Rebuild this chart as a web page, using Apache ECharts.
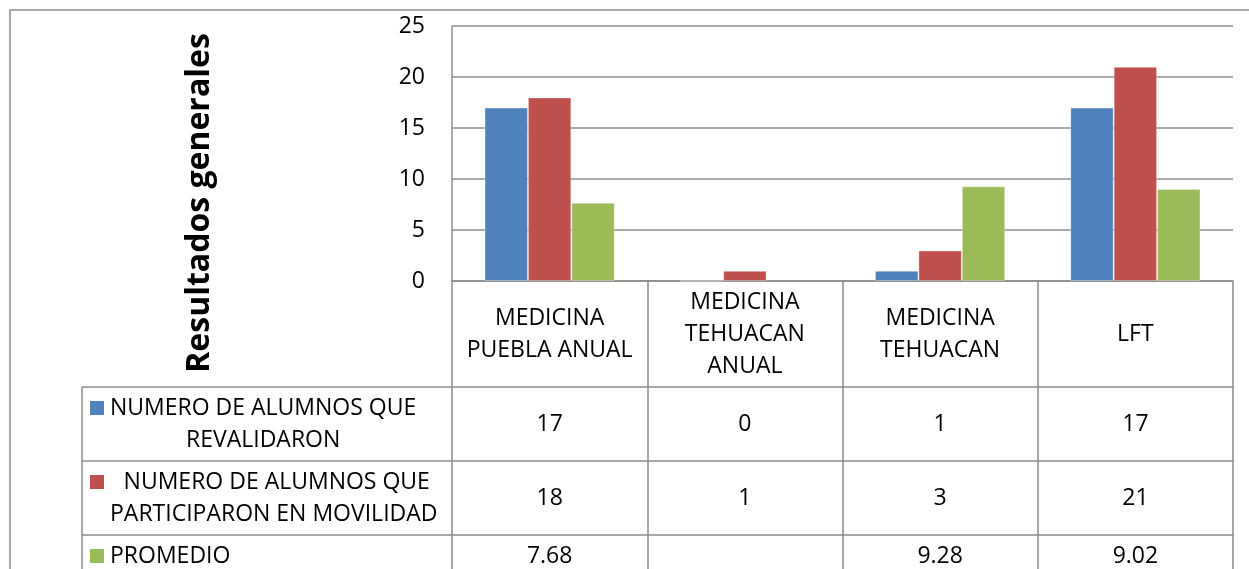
<!DOCTYPE html>
<html><head><meta charset="utf-8">
<script src="https://cdn.jsdelivr.net/npm/echarts@6/dist/echarts.min.js"></script>
<style>html,body{margin:0;padding:0;background:#fff}#c{width:1249px;height:569px}</style>
</head><body><div id="c"></div>
<script>
// ---- data ----
const categories = ['MEDICINA\nPUEBLA ANUAL', 'MEDICINA\nTEHUACAN\nANUAL', 'MEDICINA\nTEHUACAN', 'LFT'];
const seriesNames = ['NUMERO DE ALUMNOS QUE\nREVALIDARON', ' NUMERO DE ALUMNOS QUE\nPARTICIPARON EN MOVILIDAD', 'PROMEDIO'];
const revalidaron = [17, 0, 1, 17];
const movilidad = [18, 1, 3, 21];
const promedio = [7.68, null, 9.28, 9.02];
const promedioLabels = ['7.68', '', '9.28', '9.02'];
const yAxisRange = [0, 25];
const yAxisStep = 5;
const yTitle = 'Resultados generales';
const colors = ['#4F81BD', '#C0504D', '#9BBB59'];

// ---- layout ----
const W = 1249, H = 569;
const FONT = '"Open Sans", sans-serif';
const FS = 23;
const GRAY = '#8c8c8c';
const LW = 1.5;
const gridLeft = 452, gridRight = 16, gridTop = 26, gridBottom = 288;
const axisY = H - gridBottom;            // y of category axis
const rowHeights = [106, 74, 74, 60];
const rowOffsets = [0, 106, 180, 254];
const rowLabelMargins = [53, 37, 37, 21];
const tableLeft = 82;
const frameX = 10, frameY = 10;

const valueSeries = [revalidaron, movilidad, promedio];
const rowLabels = [null, revalidaron.map(String), movilidad.map(String), promedioLabels];

const xAxes = rowOffsets.map((off, i) => ({
  type: 'category',
  data: categories,
  position: 'bottom',
  offset: off,
  axisLine: { show: true, lineStyle: { color: GRAY, width: LW } },
  axisTick: { show: true, length: rowHeights[i], lineStyle: { color: GRAY, width: LW } },
  axisLabel: {
    interval: 0, margin: rowLabelMargins[i], verticalAlign: 'middle',
    fontSize: FS, lineHeight: 32, color: '#000', fontFamily: FONT,
    formatter: (v, idx) => (i === 0 ? v : rowLabels[i][idx])
  },
  splitLine: { show: false }
}));

// measure text helper
const cv = document.createElement('canvas').getContext('2d');
function blockWidth(text, font) {
  cv.font = font;
  return Math.max(...text.split('\n').map(t => cv.measureText(t).width));
}

const graphics = [];
// outer frame
graphics.push({ type: 'polyline', silent: true, shape: { points: [[frameX, H], [frameX, frameY], [W, frameY]] },
  style: { stroke: GRAY, lineWidth: LW, fill: null } });
// legend column lines
const rowTops = [axisY + rowOffsets[1], axisY + rowOffsets[2], axisY + rowOffsets[3]];
rowTops.forEach(y => graphics.push({ type: 'line', silent: true, shape: { x1: tableLeft, y1: y, x2: gridLeft, y2: y },
  style: { stroke: GRAY, lineWidth: LW } }));
graphics.push({ type: 'line', silent: true, shape: { x1: tableLeft, y1: rowTops[0], x2: tableLeft, y2: H },
  style: { stroke: GRAY, lineWidth: LW } });
// legend entries
const legendFont = FS + 'px ' + FONT;
seriesNames.forEach((name, i) => {
  const top = rowTops[i];
  const h = i < 2 ? rowHeights[i + 1] : 42;
  const cy = top + h / 2;
  const nLines = name.split('\n').length;
  const firstLineY = cy - (nLines - 1) * 16;
  graphics.push({ type: 'rect', silent: true, shape: { x: 90, y: firstLineY - 7, width: 14, height: 14 },
    style: { fill: colors[i] } });
  const bw = blockWidth(name, legendFont);
  graphics.push({ type: 'text', silent: true, x: 110 + (nLines > 1 ? bw / 2 : 0), y: cy,
    style: { text: name, font: legendFont, fill: '#000', align: nLines > 1 ? 'center' : 'left',
      verticalAlign: 'middle', lineHeight: 32 } });
});
// y axis title
graphics.push({ type: 'text', silent: true, x: 200, y: 203, rotation: Math.PI / 2,
  style: { text: yTitle, font: 'bold 32px ' + FONT, fill: '#000', align: 'center', verticalAlign: 'middle' } });

const chart = echarts.init(document.getElementById('c'), null, { renderer: 'canvas' });
chart.setOption({
  animation: false,
  backgroundColor: '#fff',
  grid: { left: gridLeft, right: gridRight, top: gridTop, bottom: gridBottom, containLabel: false, outerBoundsMode: 'none' },
  xAxis: xAxes,
  yAxis: {
    type: 'value', min: yAxisRange[0], max: yAxisRange[1], interval: yAxisStep,
    axisLine: { show: true, lineStyle: { color: GRAY, width: LW } },
    axisTick: { show: false },
    axisLabel: { fontSize: FS, color: '#000', fontFamily: FONT, margin: 27 },
    splitLine: { show: true, lineStyle: { color: GRAY, width: LW } }
  },
  series: valueSeries.map((d, i) => ({
    type: 'bar', name: seriesNames[i], data: d, xAxisIndex: 0,
    barGap: '0%', barCategoryGap: '33.3%',
    itemStyle: { color: colors[i], borderColor: 'rgba(255,255,255,0.35)', borderWidth: 1 }
  })),
  graphic: graphics
});
</script></body></html>
